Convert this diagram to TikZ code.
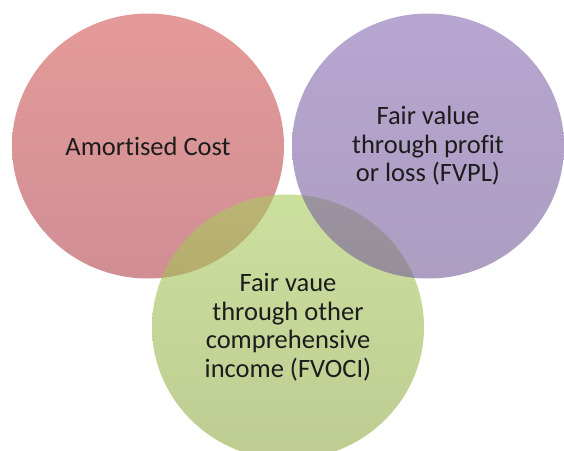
\documentclass[tikz,border=0pt]{standalone}
\usepackage{fontspec}
\setmainfont[Ligatures=NoCommon]{Carlito}
\usetikzlibrary{shapes.geometric}

\definecolor{redtop}{RGB}{210,87,83}
\definecolor{redbot}{RGB}{177,68,77}
\definecolor{greentop}{RGB}{170,203,93}
\definecolor{greenbot}{RGB}{147,170,73}
\definecolor{purpletop}{RGB}{135,107,177}
\definecolor{purplebot}{RGB}{117,92,153}
\definecolor{ink}{RGB}{28,28,28}

\begin{document}
\begin{tikzpicture}[ x=1pt, y=-1pt, venn/.style={ ellipse,
    minimum width=272pt, minimum height=265pt, inner sep=0pt,
    outer sep=0pt, fill opacity=0.6, text opacity=1, text=ink,
    align=center, font=\fontsize{26.5}{28.5}\selectfont } ]
  \useasboundingbox (0,0) rectangle (564,450);
  \foreach \nm/\x/\y/\col/\txt in {am/148/146/red/{Amortised Cost},
    oci/288/327/green/{Fair vaue\\through other\\comprehensive\\income (FVOCI)},
    pl/428/146/purple/{Fair value\\through profit\\or loss (FVPL)}}
  \node[venn,top color=\col top,bottom color=\col bot] (\nm) at (\x,\y) {\txt};
\end{tikzpicture}
\end{document}
